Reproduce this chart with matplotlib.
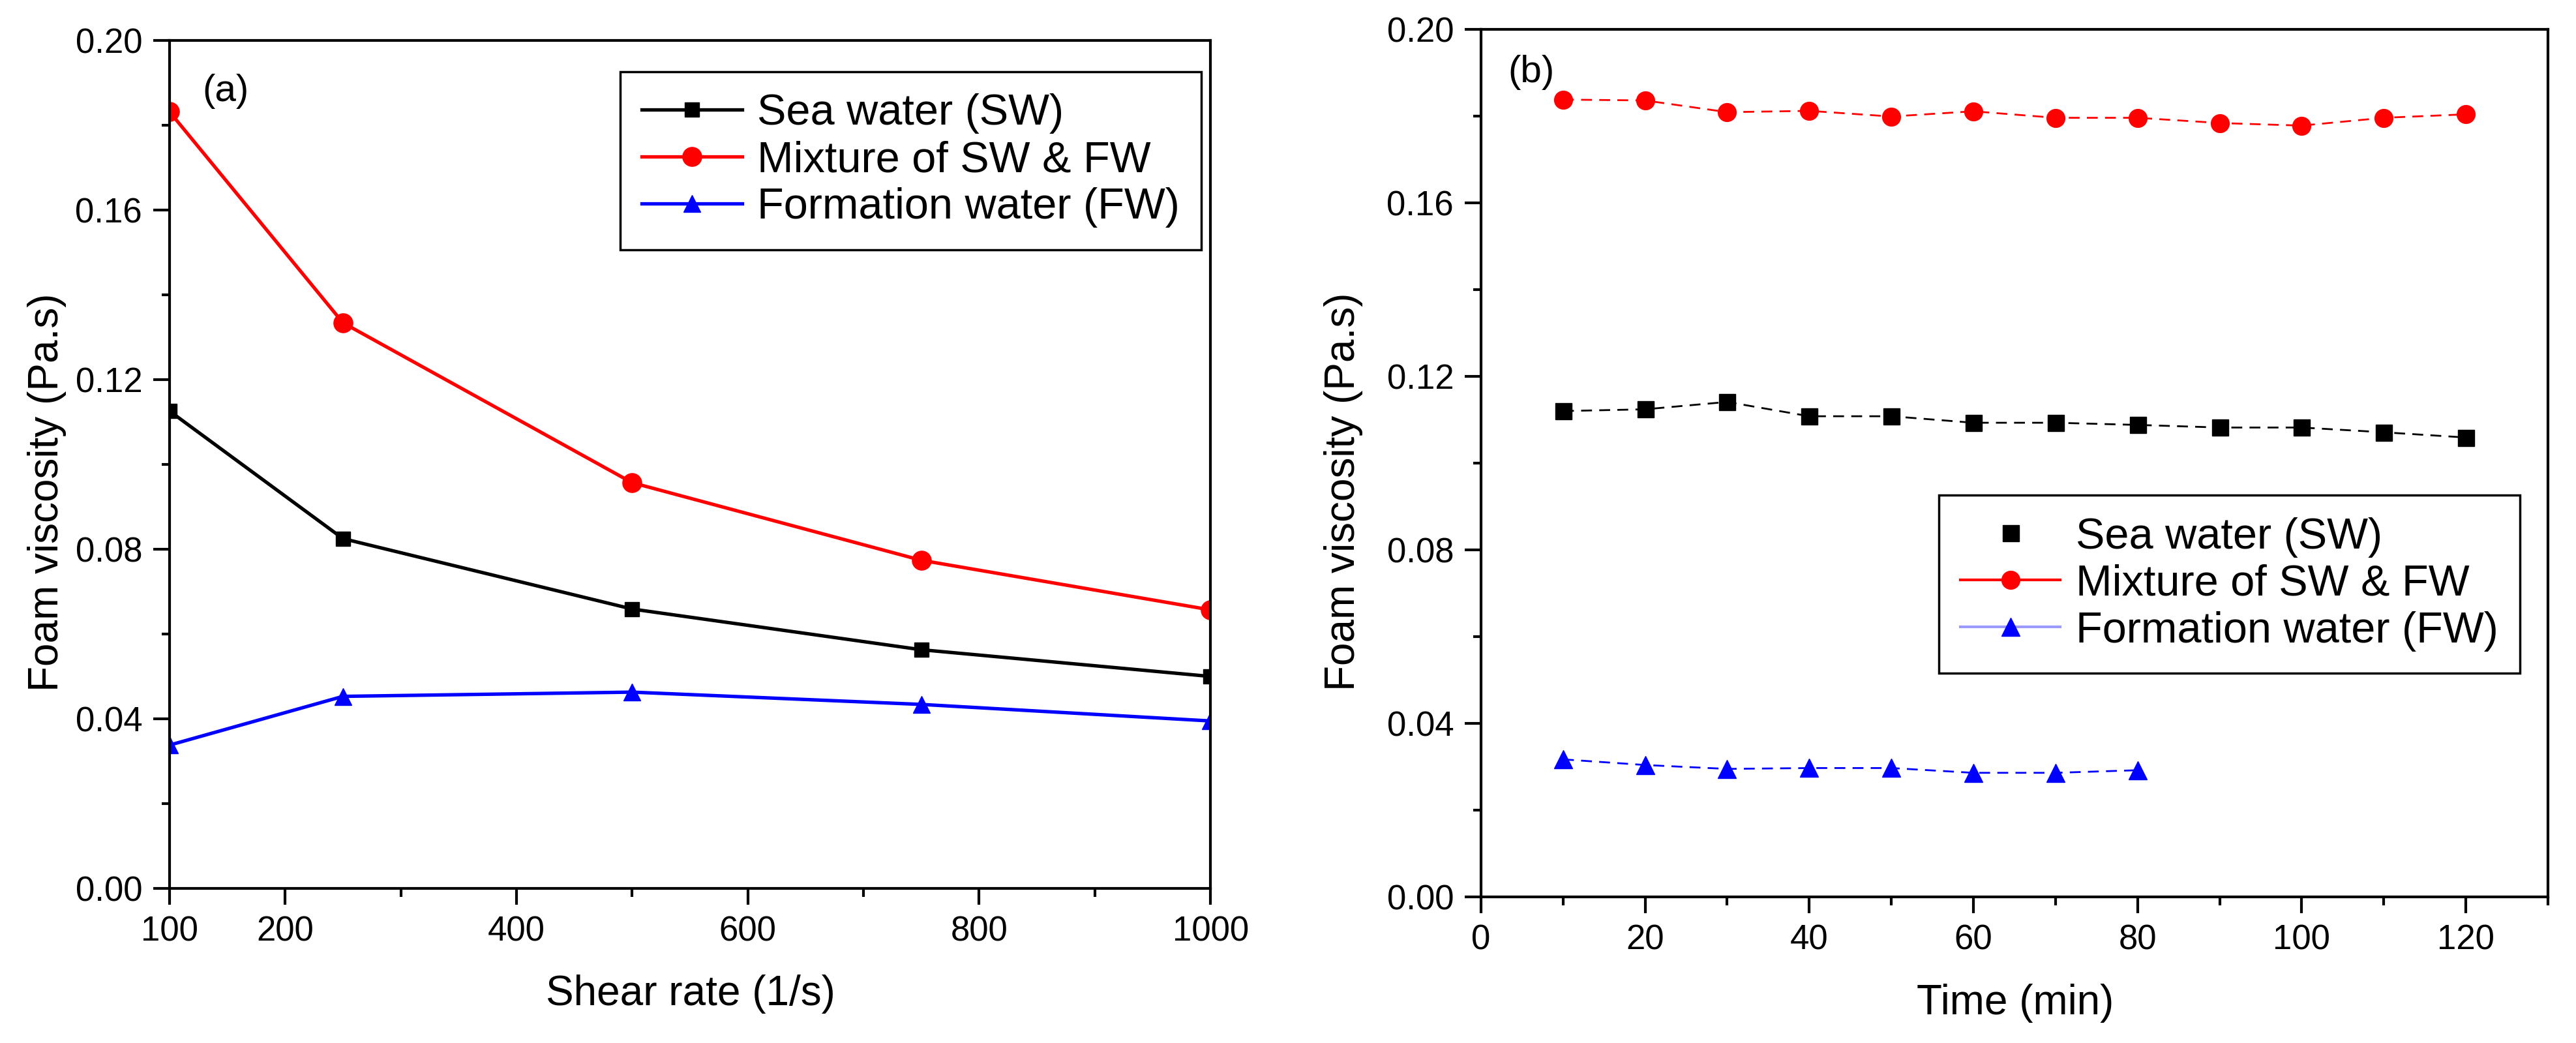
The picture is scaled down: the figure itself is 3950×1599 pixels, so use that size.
import matplotlib
matplotlib.use('Agg')
import matplotlib.pyplot as plt
from matplotlib.lines import Line2D
from matplotlib.ticker import MultipleLocator, FixedLocator

plt.rcParams['font.family'] = ['Liberation Sans', 'DejaVu Sans']

# (a) viscosity vs shear rate
shear = [100, 250, 500, 750, 1000]
sw_a = [0.1126, 0.0825, 0.0659, 0.0563, 0.0500]
mix_a = [0.1832, 0.1334, 0.0957, 0.0774, 0.0657]
fw_a = [0.0338, 0.0453, 0.0463, 0.0434, 0.0395]

# (b) viscosity vs time
time_sw = [10, 20, 30, 40, 50, 60, 70, 80, 90, 100, 110, 120]
sw_b = [0.1120, 0.1124, 0.1141, 0.1108, 0.1108, 0.1093, 0.1093, 0.1088, 0.1082, 0.1082, 0.1071, 0.1059]
mix_b = [0.1838, 0.1836, 0.1809, 0.1812, 0.1799, 0.1811, 0.1796, 0.1796, 0.1784, 0.1778, 0.1796, 0.1804]
time_fw = [10, 20, 30, 40, 50, 60, 70, 80]
fw_b = [0.0317, 0.0304, 0.0295, 0.0297, 0.0297, 0.0286, 0.0286, 0.0292]

labels = ["Sea water (SW)", "Mixture of SW & FW", "Formation water (FW)"]

fig = plt.figure(figsize=(39.5, 15.99), dpi=100)
ax1 = fig.add_axes([0.0658, 0.1482, 0.4041, 0.8130])
ax2 = fig.add_axes([0.5749, 0.1401, 0.4142, 0.8318])

TICK_FS = 38
LAB_FS = 46
LEG_FS = 48

for ax in (ax1, ax2):
    for s in ax.spines.values():
        s.set_linewidth(3)
    ax.tick_params(which='major', direction='out', length=18, width=3, labelsize=TICK_FS, pad=12)
    ax.tick_params(which='minor', direction='out', length=9, width=3)
    ax.set_ylim(0, 0.20)
    ax.yaxis.set_major_locator(MultipleLocator(0.04))
    ax.yaxis.set_minor_locator(MultipleLocator(0.02))
    ax.yaxis.set_major_formatter(lambda v, p: "%.2f" % v)

# GRAFICO (a)
ax1.plot(shear, sw_a, '-s', color='black', lw=3.8, ms=16, label=labels[0])
ax1.plot(shear, mix_a, '-o', color='red', lw=3.8, ms=21, label=labels[1])
ax1.plot(shear, fw_a, '-^', color='blue', lw=3.8, ms=19, label=labels[2])
ax1.set_xlim(100, 1000)
ax1.xaxis.set_major_locator(FixedLocator([100, 200, 400, 600, 800, 1000]))
ax1.xaxis.set_minor_locator(FixedLocator([300, 500, 700, 900]))
ax1.set_xlabel("Shear rate (1/s)", fontsize=LAB_FS)
ax1.set_ylabel("Foam viscosity (Pa.s)", fontsize=LAB_FS)
ax1.xaxis.set_label_coords(0.5006, -0.1015)
ax1.yaxis.set_label_coords(-0.099, 0.467)
ax1.text(0.054, 0.94, "(a)", transform=ax1.transAxes, fontsize=42, ha='center', va='center')
leg1 = ax1.legend(loc='upper left', bbox_to_anchor=(0.433, 0.963), fontsize=LEG_FS,
                  handlelength=2.3, handletextpad=0.35, labelspacing=0.15,
                  borderpad=0.5, borderaxespad=0, fancybox=False,
                  edgecolor='black', framealpha=1)
leg1.get_frame().set_linewidth(2.5)

# GRAFICO (b)
ax2.plot(time_sw, sw_b, 's', color='black', ms=18, ls=(0, (6, 4)), lw=2)
ax2.plot(time_sw, mix_b, 'o', color='red', ms=20, ls=(0, (6, 4)), lw=2)
ax2.plot(time_fw, fw_b, '^', color='blue', ms=20, ls=(0, (6, 4)), lw=2)
ax2.set_xlim(0, 130)
ax2.xaxis.set_major_locator(MultipleLocator(20))
ax2.xaxis.set_minor_locator(MultipleLocator(10))
ax2.set_xlabel("Time (min)", fontsize=LAB_FS)
ax2.set_ylabel("Foam viscosity (Pa.s)", fontsize=LAB_FS)
ax2.xaxis.set_label_coords(0.501, -0.100)
ax2.yaxis.set_label_coords(-0.1106, 0.467)
ax2.text(0.047, 0.95, "(b)", transform=ax2.transAxes, fontsize=42, ha='center', va='center')
handles = [
    Line2D([], [], marker='s', color='black', ls='none', ms=18),
    Line2D([], [], marker='o', color='red', ls='-', lw=3, ms=20),
    Line2D([], [], marker='^', color='#9a9aff', markerfacecolor='blue',
           markeredgecolor='blue', ls='-', lw=3, ms=20),
]
leg2 = ax2.legend(handles, labels, loc='upper left', bbox_to_anchor=(0.429, 0.463), fontsize=LEG_FS,
                  handlelength=2.3, handletextpad=0.35, labelspacing=0.15,
                  borderpad=0.5, borderaxespad=0, fancybox=False,
                  edgecolor='black', framealpha=1)
leg2.get_frame().set_linewidth(2.5)

fig.savefig("out.png", dpi=100, facecolor='white')
